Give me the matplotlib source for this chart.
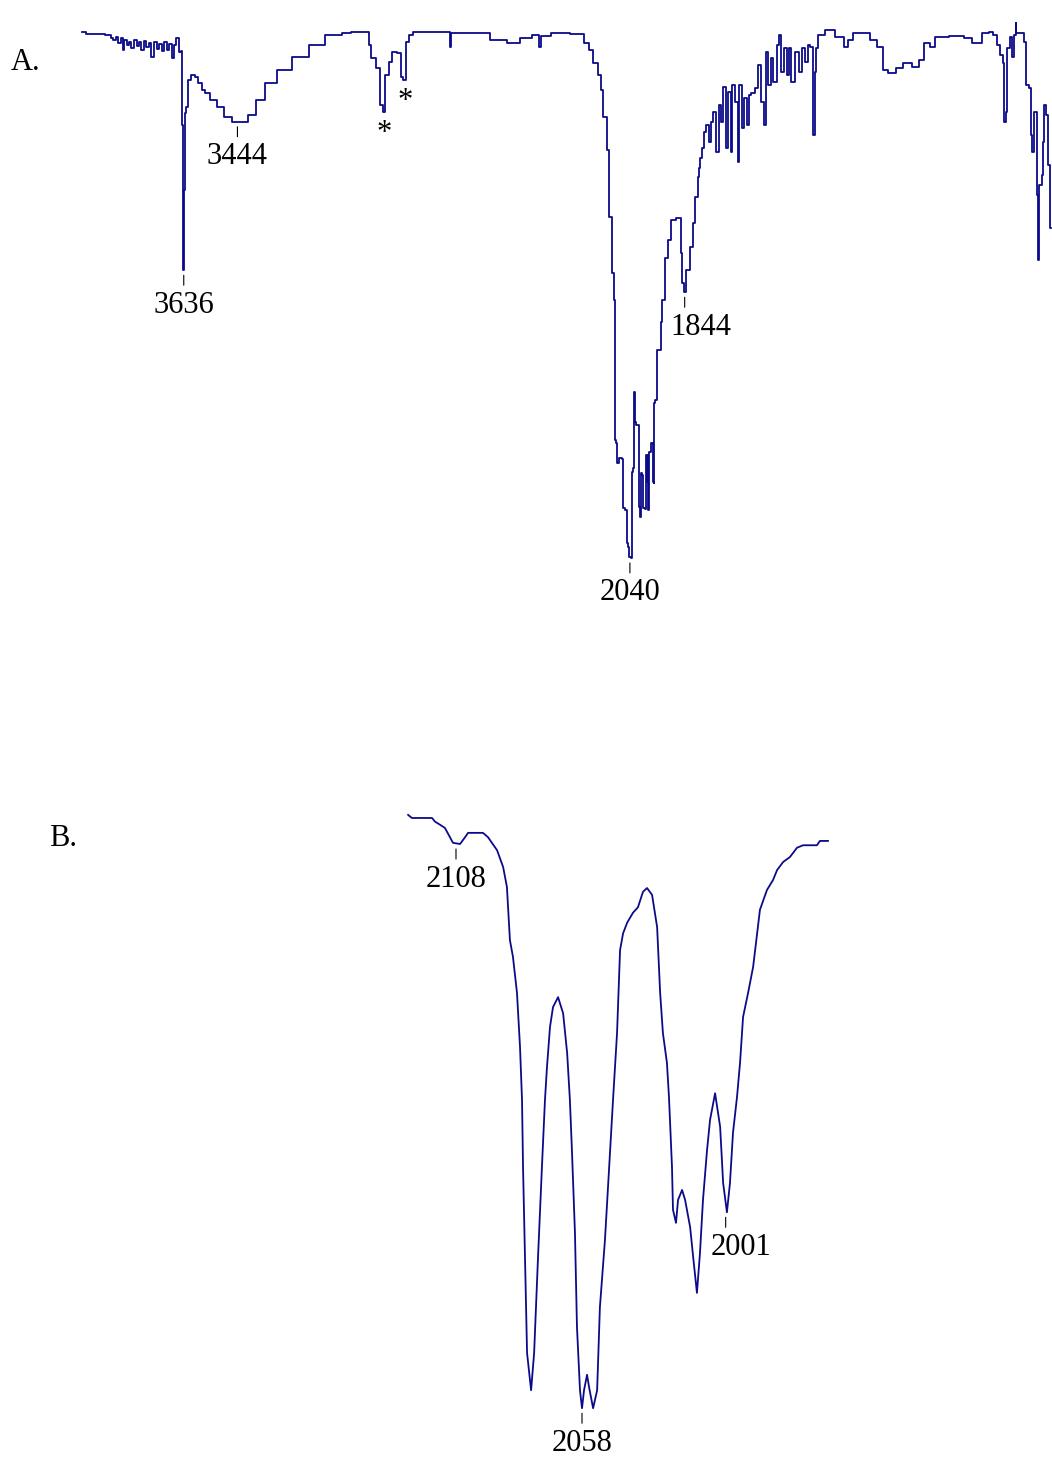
import numpy as np
import matplotlib
matplotlib.use("Agg")
import matplotlib.pyplot as plt

# spectrum A (wavenumber cm-1, transmittance %)
wn_a = [4000, 3971, 3936, 3900, 3893, 3882, 3875, 3864, 3857, 3853, 3846, 3835, 3828, 3818, 3810,
        3800, 3793, 3782, 3775, 3764, 3757, 3746, 3739, 3728, 3721, 3710, 3703, 3692, 3685, 3674,
        3667, 3657, 3649, 3643, 3640, 3638, 3636, 3633, 3630, 3628, 3614, 3603, 3589, 3578, 3567,
        3553, 3531, 3506, 3481, 3446, 3417, 3392, 3363, 3327, 3281, 3220, 3159, 3102, 3041, 3034,
        2980, 2970, 2959, 2941, 2927, 2920, 2909, 2898, 2887, 2862, 2855, 2845, 2837, 2827, 2802,
        2684, 2684, 2676, 2576, 2505, 2451, 2415, 2369, 2362, 2354, 2290, 2218, 2193, 2183, 2158,
        2147, 2140, 2129, 2118, 2111, 2100, 2093, 2093, 2086, 2086, 2075, 2065, 2065, 2050, 2050,
        2043, 2043, 2032, 2032, 2029, 2025, 2022, 2011, 2007, 2000, 2000, 1993, 1993, 1982, 1982,
        1979, 1975, 1972, 1968, 1961, 1957, 1954, 1954, 1943, 1940, 1929, 1925, 1922, 1907, 1897,
        1886, 1861, 1854, 1850, 1844, 1832, 1818, 1814, 1800, 1796, 1789, 1789, 1778, 1771, 1761,
        1753, 1746, 1736, 1728, 1718, 1711, 1700, 1693, 1685, 1675, 1671, 1657, 1650, 1646, 1635,
        1628, 1617, 1610, 1600, 1585, 1575, 1567, 1557, 1550, 1539, 1532, 1521, 1510, 1503, 1496,
        1485, 1474, 1467, 1457, 1442, 1431, 1421, 1406, 1403, 1389, 1381, 1378, 1371, 1360, 1324,
        1288, 1263, 1253, 1228, 1192, 1170, 1145, 1127, 1109, 1099, 1074, 1049, 1013, 1002, 977,
        956, 941, 859, 834, 798, 762, 752, 727, 723, 709, 705, 698, 691, 691, 673,
        670, 662, 659, 655, 634, 627, 619, 609, 602, 598, 591, 584, 584, 577, 573,
        562, 562, 555, 548, 541, 534]
t_a = [97.8, 97.5, 97.5, 97.3, 96.7, 96.4, 96.9, 95.8, 96.7, 94.5, 96.4, 95.5, 96.0, 94.9, 96.4,
       95.3, 96.0, 94.5, 96.2, 95.1, 95.8, 93.3, 96.0, 94.7, 95.6, 94.4, 96.0, 94.5, 95.6, 93.1,
       95.5, 96.7, 94.2, 94.4, 80.9, 67.3, 54.5, 69.1, 83.1, 84.2, 89.1, 90.0, 89.6, 88.5, 87.3,
       86.7, 85.5, 84.2, 82.4, 81.5, 81.5, 82.7, 85.5, 88.5, 90.9, 93.3, 95.5, 97.3, 97.6, 97.8,
       97.8, 95.5, 93.1, 91.3, 84.5, 83.3, 90.0, 92.4, 94.2, 94.0, 89.6, 89.1, 96.0, 97.3, 97.8,
       97.8, 95.1, 97.6, 97.6, 96.4, 95.8, 96.7, 97.3, 95.1, 97.1, 97.6, 97.5, 95.8, 94.5, 92.2,
       90.0, 87.3, 82.4, 76.4, 64.2, 54.0, 49.1, 23.6, 23.1, 19.5, 20.4, 20.2, 11.3, 10.9, 4.9,
       4.2, 2.4, 2.2, 17.8, 18.5, 32.4, 26.9, 26.4, 11.5, 9.6, 17.6, 17.3, 11.3, 11.1, 20.9,
       16.0, 20.9, 10.9, 21.5, 23.1, 16.0, 15.8, 30.4, 30.9, 40.0, 40.0, 45.1, 49.1, 56.7, 60.0,
       63.6, 64.0, 57.6, 52.2, 50.5, 54.5, 58.7, 63.1, 67.8, 71.5, 73.1, 74.9, 76.7, 79.6, 80.9,
       77.8, 81.5, 83.3, 76.0, 84.5, 81.5, 87.8, 76.7, 86.9, 76.0, 88.2, 85.1, 74.2, 88.2, 80.4,
       85.8, 80.9, 86.4, 86.7, 87.6, 91.8, 85.1, 80.9, 94.2, 88.2, 93.1, 88.7, 95.5, 97.3, 90.5,
       94.9, 90.0, 94.9, 88.7, 94.2, 90.5, 94.9, 92.4, 95.5, 95.1, 79.1, 90.5, 94.9, 97.3, 98.2,
       96.9, 95.1, 96.4, 97.6, 97.6, 96.4, 95.1, 90.9, 90.4, 90.4, 91.3, 92.2, 91.5, 92.7, 95.8,
       95.1, 96.9, 97.1, 96.7, 95.8, 97.6, 97.8, 97.3, 95.5, 93.6, 92.2, 81.5, 83.3, 94.9, 96.9,
       93.3, 97.3, 99.5, 97.6, 97.6, 96.0, 88.2, 87.6, 79.1, 76.0, 83.3, 83.3, 68.2, 56.4, 70.0,
       71.8, 77.8, 84.5, 82.7, 73.6, 62.2]

# spectrum B
wn_b = [2127.0, 2125.5, 2117.5, 2116.3, 2114.3, 2112.4, 2110.4, 2109.2, 2106.4, 2104.4, 2103.2,
        2097.3, 2095.3, 2091.7, 2089.3, 2087.8, 2086.6, 2085.4, 2083.8, 2082.6, 2081.8, 2081.4,
        2080.6, 2079.8, 2078.2, 2077.0, 2075.5, 2073.9, 2072.7, 2071.9, 2070.7, 2069.5, 2067.5,
        2065.5, 2063.9, 2062.8, 2062.0, 2060.8, 2060.0, 2058.8, 2058.0, 2057.2, 2056.0, 2055.2,
        2053.6, 2052.0, 2050.9, 2048.9, 2046.9, 2045.7, 2044.1, 2042.9, 2041.7, 2040.1, 2037.8,
        2035.8, 2033.8, 2032.2, 2030.2, 2028.2, 2027.0, 2025.9, 2024.3, 2023.5, 2023.1, 2022.3,
        2021.9, 2020.7, 2019.9, 2018.3, 2017.1, 2015.1, 2013.9, 2012.4, 2011.2, 2010.0, 2008.4,
        2007.2, 2005.2, 2003.2, 2002.0, 2000.5, 1999.3, 1998.1, 1996.5, 1995.3, 1994.1, 1992.1,
        1990.1, 1987.4, 1984.6, 1982.2, 1980.6, 1978.2, 1975.5, 1972.7, 1970.3, 1964.8, 1963.6,
        1960.4]
t_b = [97.6, 97.1, 97.1, 96.5, 96.0, 95.5, 94.0, 93.1, 92.9, 94.0, 94.7,
       94.7, 94.0, 91.9, 89.2, 86.0, 77.4, 74.7, 68.9, 60.2, 51.6, 40.8,
       25.8, 10.8, 4.8, 10.8, 25.8, 40.8, 51.6, 56.9, 63.4, 66.6, 68.2,
       65.6, 59.2, 51.6, 43.5, 30.2, 15.0, 4.8, 1.9, 4.8, 7.3, 5.3,
       1.9, 4.8, 18.2, 29.0, 43.1, 51.6, 62.4, 75.8, 78.5, 80.2, 81.8,
       82.7, 85.2, 85.8, 84.7, 79.5, 68.9, 62.4, 57.6, 52.1, 48.4, 40.8,
       33.9, 31.8, 35.5, 37.1, 35.5, 31.1, 26.3, 20.5, 26.9, 35.5, 43.5,
       48.4, 52.7, 47.3, 38.2, 33.5, 38.2, 46.3, 52.1, 57.6, 65.0, 68.9,
       73.1, 82.3, 85.5, 87.1, 88.7, 90.0, 90.8, 92.3, 92.7, 92.7, 93.4,
       93.4]

# peak labels: position, minimum value, text
peaks_a = [(3636, 54.5, "3636"), (3444, 81.5, "3444"), (2040, 2.2, "2040"), (1844, 50.5, "1844")]
peaks_b = [(2108, 92.9, "2108"), (2058, 1.9, "2058"), (2001, 33.5, "2001")]
stars_a = [(2920, 83.3), (2845, 89.1)]

col = "#0b0b8a"
serif = ["Liberation Serif", "DejaVu Serif"]
fs = 22
px = 0.72  # points per pixel at dpi 100

fig = plt.figure(figsize=(10.52, 14.61), dpi=100)
axA = fig.add_axes([0.07795, 0.60986, 0.92205, 0.37645])
axB = fig.add_axes([0.38793, 0.02806, 0.40010, 0.42437])


def mark(ax, x, y, txt, dx=0):
    ax.annotate("", xy=(x, y), xytext=(0, -15 * px), textcoords="offset points",
                arrowprops=dict(arrowstyle="-", lw=0.8, color="k", shrinkA=0, shrinkB=5 * px))
    ax.annotate(txt, xy=(x, y), xytext=(dx * px, -35 * px), textcoords="offset points",
                ha="center", va="center", fontsize=fs, family=serif)


axA.plot(wn_a, t_a, color=col, lw=1.3, drawstyle="steps-mid", clip_on=False)
axA.set_xlim(4000, 530)
axA.set_ylim(0, 100)
for x, y, s in peaks_a:
    mark(axA, x, y, s, dx=16 if s == "1844" else 0)
for x, y in stars_a:
    axA.annotate("*", xy=(x, y), xytext=(0, -22 * px), textcoords="offset points",
                 ha="center", va="center", fontsize=fs, family=serif)

axB.plot(wn_b, t_b, color=col, lw=1.3, clip_on=False)
axB.set_xlim(2127, 1960)
axB.set_ylim(0, 100)
for x, y, s in peaks_b:
    mark(axB, x, y, s, dx=15 if s == "2001" else 0)

for ax in (axA, axB):
    ax.axis("off")

fig.text(26 / 1052, 1 - 62 / 1461, "A.", ha="center", va="center", fontsize=fs, family=serif)
fig.text(63 / 1052, 1 - 838 / 1461, "B.", ha="center", va="center", fontsize=fs, family=serif)

fig.savefig("out.png", dpi=100)
